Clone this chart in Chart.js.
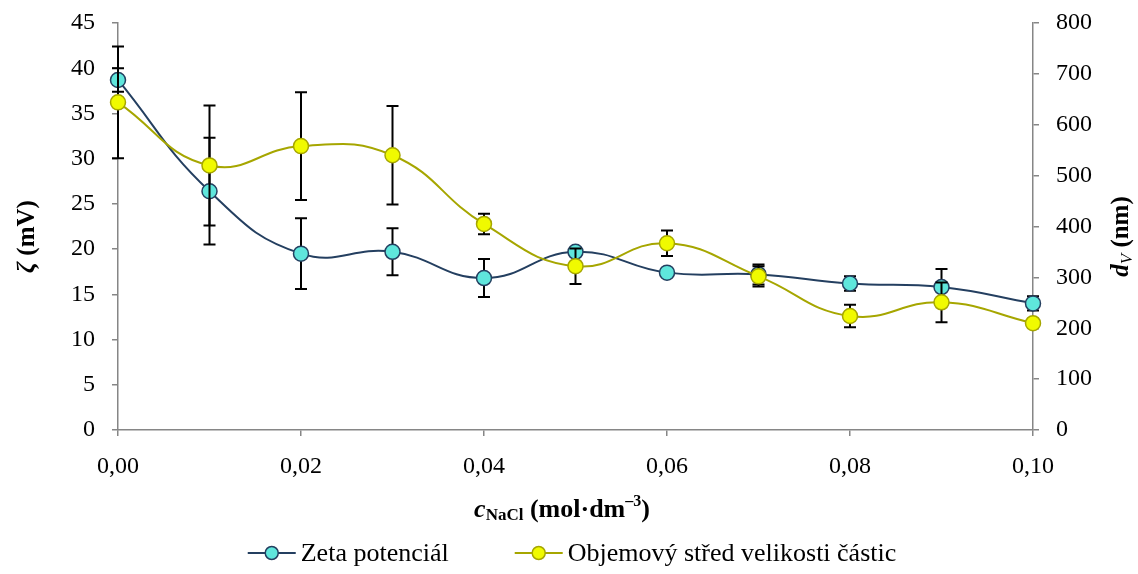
<!DOCTYPE html>
<html>
<head>
<meta charset="utf-8">
<script src="https://cdn.jsdelivr.net/npm/chart.js@4.4.1/dist/chart.umd.min.js"></script>
<style>
  html, body { margin: 0; padding: 0; background: #fff; }
  #wrap { width: 1138px; height: 574px; }
</style>
</head>
<body>
<div id="wrap"><canvas id="chart" width="1138" height="574"></canvas></div>
<script>
// NaCl concentration (mol/dm3)
const conc = [0.00, 0.01, 0.02, 0.03, 0.04, 0.05, 0.06, 0.07, 0.08, 0.09, 0.10];
// zeta potential (mV) and its error
const zeta = [38.7, 26.4, 19.5, 19.7, 16.8, 19.7, 17.4, 17.2, 16.2, 15.8, 14.0];
const zetaErr = [1.3, 5.9, 3.9, 2.6, 2.1, 0.3, 0.3, 1.1, 0.8, 2.0, 0.8];
// volume mean particle size (nm) and its error
const size = [644, 520, 558, 540, 405, 322, 367, 302, 224, 251, 210];
const sizeErr = [110, 118, 106, 97, 20, 35, 25, 20, 22, 39, 0];

const xTicks = [0, 0.02, 0.04, 0.06, 0.08, 0.10];
const legendLabels = ["Zeta potenciál", "Objemový střed velikosti částic"];

const FONT = "'Liberation Serif', 'Times New Roman', serif";
const AXIS = "#868686";

const zetaColor = { line: "#243f60", fill: "#5fe6dc" };
const sizeColor = { line: "#a6a600", fill: "#f0fa00" };

function pts(ys) { return conc.map((c, i) => ({ x: c, y: ys[i] })); }

// draw a sequence of styled text runs centred on (cx, cy), optionally rotated
function drawRuns(ctx, runs, cx, cy, rot) {
  ctx.save();
  ctx.translate(cx, cy);
  if (rot) ctx.rotate(rot);
  let total = 0;
  runs.forEach(r => { ctx.font = r.font; r.w = ctx.measureText(r.t).width; total += r.w; });
  let x = -total / 2;
  ctx.fillStyle = "#000";
  ctx.textBaseline = "middle";
  ctx.textAlign = "left";
  runs.forEach(r => {
    ctx.font = r.font;
    ctx.fillText(r.t, x, r.dy || 0);
    x += r.w;
  });
  ctx.restore();
}

const extras = {
  id: "extras",
  beforeDatasetDraw(chart, args) {
    const ds = chart.data.datasets[args.index];
    const errs = ds.errors;
    if (!errs) return;
    const ctx = chart.ctx;
    const xs = chart.scales.x, ys = chart.scales[ds.yAxisID];
    ctx.save();
    ctx.strokeStyle = "#000";
    ctx.lineWidth = 2;
    ds.data.forEach((p, i) => {
      const e = errs[i];
      if (!e) return;
      const px = xs.getPixelForValue(p.x);
      const top = ys.getPixelForValue(p.y + e);
      const bot = ys.getPixelForValue(p.y - e);
      ctx.beginPath();
      ctx.moveTo(px, top); ctx.lineTo(px, bot);
      ctx.moveTo(px - 6, top); ctx.lineTo(px + 6, top);
      ctx.moveTo(px - 6, bot); ctx.lineTo(px + 6, bot);
      ctx.stroke();
    });
    ctx.restore();
  },
  afterDraw(chart) {
    const ctx = chart.ctx;
    const a = chart.chartArea;
    const midY = (a.top + a.bottom) / 2 + 10;
    // left axis title
    drawRuns(ctx, [
      { t: "ζ", font: "bold italic 25px " + FONT },
      { t: " (mV)", font: "bold 25px " + FONT }
    ], 28, midY, -Math.PI / 2);
    // right axis title
    drawRuns(ctx, [
      { t: "d", font: "bold italic 25px " + FONT },
      { t: "V", font: "italic 17px " + FONT, dy: 6 },
      { t: " (nm)", font: "bold 25px " + FONT }
    ], 1122, midY, -Math.PI / 2);
    // x axis title
    drawRuns(ctx, [
      { t: "c", font: "bold italic 26px " + FONT },
      { t: "NaCl", font: "bold 17px " + FONT, dy: 6 },
      { t: " (mol·dm", font: "bold 26px " + FONT },
      { t: "–3", font: "bold 16px " + FONT, dy: -8 },
      { t: ")", font: "bold 26px " + FONT }
    ], 562, 510, 0);
    // legend
    ctx.save();
    ctx.font = "26px " + FONT;
    const sym = 48, gap = 5, between = 66;
    const w0 = ctx.measureText(legendLabels[0]).width;
    const w1 = ctx.measureText(legendLabels[1]).width;
    const total = sym + gap + w0 + between + sym + gap + w1;
    let x = 572 - total / 2;
    const y = 553;
    chart.data.datasets.slice().sort((p, q) => p.legendIndex - q.legendIndex).forEach((ds, k) => {
      ctx.strokeStyle = ds.borderColor;
      ctx.lineWidth = 2;
      ctx.beginPath(); ctx.moveTo(x, y); ctx.lineTo(x + sym, y); ctx.stroke();
      ctx.beginPath(); ctx.arc(x + sym / 2, y, 6.5, 0, Math.PI * 2);
      ctx.fillStyle = ds.pointBackgroundColor; ctx.fill();
      ctx.lineWidth = 1.5; ctx.strokeStyle = ds.pointBorderColor; ctx.stroke();
      ctx.fillStyle = "#000";
      ctx.textBaseline = "middle";
      ctx.fillText(legendLabels[k], x + sym + gap, y + 1);
      x += sym + gap + (k === 0 ? w0 : w1) + between;
    });
    ctx.restore();
  }
};

const tickFont = { family: FONT, size: 24 };

new Chart(document.getElementById("chart").getContext("2d"), {
  type: "line",
  data: {
    datasets: [{
      label: legendLabels[1],
      legendIndex: 1,
      data: pts(size),
      errors: sizeErr,
      yAxisID: "y2",
      borderColor: sizeColor.line,
      borderWidth: 2,
      pointBackgroundColor: sizeColor.fill,
      pointBorderColor: sizeColor.line,
      pointBorderWidth: 1.5,
      pointRadius: 7.5,
      tension: 0.45,
      order: 1
    }, {
      label: legendLabels[0],
      legendIndex: 0,
      data: pts(zeta),
      errors: zetaErr,
      yAxisID: "y",
      borderColor: zetaColor.line,
      borderWidth: 2,
      pointBackgroundColor: zetaColor.fill,
      pointBorderColor: zetaColor.line,
      pointBorderWidth: 1.5,
      pointRadius: 7.5,
      tension: 0.45,
      order: 2
    }]
  },
  options: {
    responsive: false,
    animation: false,
    clip: false,
    layout: { padding: { top: 23, left: 0, right: 0, bottom: 0 } },
    plugins: { legend: { display: false }, tooltip: { enabled: false } },
    scales: {
      x: {
        type: "linear",
        min: 0, max: 0.1,
        afterBuildTicks: s => { s.ticks = xTicks.map(v => ({ value: v })); },
        afterFit: s => { s.height = 144; },
        ticks: {
          font: tickFont, color: "#000", padding: 16, maxRotation: 0,
          callback: v => v.toFixed(2).replace(".", ",")
        },
        grid: { drawOnChartArea: false, tickLength: 6, color: AXIS, lineWidth: 1.5 },
        border: { color: AXIS, width: 1.5 }
      },
      y: {
        position: "left",
        min: 0, max: 45,
        afterFit: s => { s.width = 118; s.paddingTop = 0; s.paddingBottom = 0; },
        ticks: { stepSize: 5, font: tickFont, color: "#000", padding: 17 },
        grid: { drawOnChartArea: false, tickLength: 6, color: AXIS, lineWidth: 1.5 },
        border: { color: AXIS, width: 1.5 }
      },
      y2: {
        position: "right",
        min: 0, max: 800,
        afterFit: s => { s.width = 105; s.paddingTop = 0; s.paddingBottom = 0; },
        ticks: { stepSize: 100, font: tickFont, color: "#000", padding: 17 },
        grid: { drawOnChartArea: false, tickLength: 6, color: AXIS, lineWidth: 1.5 },
        border: { color: AXIS, width: 1.5 }
      }
    }
  },
  plugins: [extras]
});
</script>
</body>
</html>
